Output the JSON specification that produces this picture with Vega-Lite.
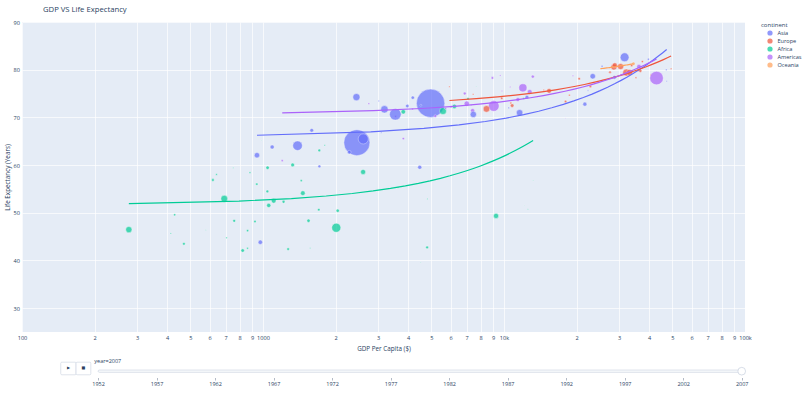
{
  "$schema": "https://vega.github.io/schema/vega-lite/v6.json",
  "padding": {"left": 4, "top": 6, "right": 2, "bottom": 2},
  "background": "white",
  "spacing": 24.5,
  "bounds": "flush",
  "config": {
    "font": "Open Sans",
    "view": {"stroke": null},
    "axis": {"labelFont": "Open Sans", "titleFont": "Open Sans", "labelColor": "#2a3f5f", "titleColor": "#2a3f5f", "titleFontWeight": "normal", "domain": false, "ticks": false, "tickSize": 0},
    "legend": {"titleFont": "Open Sans", "labelFont": "Open Sans", "titleColor": "#2a3f5f", "labelColor": "#2a3f5f", "titleFontWeight": "normal", "titleFontSize": 6, "labelFontSize": 5.6, "symbolSize": 14, "symbolType": "circle", "rowPadding": -2.2, "symbolOffset": 6, "titlePadding": 2, "labelOffset": 4.5, "offset": 9, "padding": 0}
  },
  "datasets": {
    "gapminder": [
      {"country":"Afghanistan","continent":"Asia","lifeExp":43.828,"pop":31889923,"gdpPercap":974.58},
      {"country":"Albania","continent":"Europe","lifeExp":76.423,"pop":3600523,"gdpPercap":5937.03},
      {"country":"Algeria","continent":"Africa","lifeExp":72.301,"pop":33333216,"gdpPercap":6223.37},
      {"country":"Angola","continent":"Africa","lifeExp":42.731,"pop":12420476,"gdpPercap":4797.23},
      {"country":"Argentina","continent":"Americas","lifeExp":75.32,"pop":40301927,"gdpPercap":12779.38},
      {"country":"Australia","continent":"Oceania","lifeExp":81.235,"pop":20434176,"gdpPercap":34435.37},
      {"country":"Austria","continent":"Europe","lifeExp":79.829,"pop":8199783,"gdpPercap":36126.49},
      {"country":"Bahrain","continent":"Asia","lifeExp":75.635,"pop":708573,"gdpPercap":29796.05},
      {"country":"Bangladesh","continent":"Asia","lifeExp":64.062,"pop":150448339,"gdpPercap":1391.25},
      {"country":"Belgium","continent":"Europe","lifeExp":79.441,"pop":10392226,"gdpPercap":33692.61},
      {"country":"Benin","continent":"Africa","lifeExp":56.728,"pop":8078314,"gdpPercap":1441.28},
      {"country":"Bolivia","continent":"Americas","lifeExp":65.554,"pop":9119152,"gdpPercap":3822.14},
      {"country":"Bosnia and Herzegovina","continent":"Europe","lifeExp":74.852,"pop":4552198,"gdpPercap":7446.3},
      {"country":"Botswana","continent":"Africa","lifeExp":50.728,"pop":1639131,"gdpPercap":12569.85},
      {"country":"Brazil","continent":"Americas","lifeExp":72.39,"pop":190010647,"gdpPercap":9065.8},
      {"country":"Bulgaria","continent":"Europe","lifeExp":73.005,"pop":7322858,"gdpPercap":10680.79},
      {"country":"Burkina Faso","continent":"Africa","lifeExp":52.295,"pop":14326203,"gdpPercap":1217.03},
      {"country":"Burundi","continent":"Africa","lifeExp":49.58,"pop":8390505,"gdpPercap":430.07},
      {"country":"Cambodia","continent":"Asia","lifeExp":59.723,"pop":14131858,"gdpPercap":1713.78},
      {"country":"Cameroon","continent":"Africa","lifeExp":50.43,"pop":17696293,"gdpPercap":2042.1},
      {"country":"Canada","continent":"Americas","lifeExp":80.653,"pop":33390141,"gdpPercap":36319.24},
      {"country":"Central African Republic","continent":"Africa","lifeExp":44.741,"pop":4369038,"gdpPercap":706.02},
      {"country":"Chad","continent":"Africa","lifeExp":50.651,"pop":10238807,"gdpPercap":1704.06},
      {"country":"Chile","continent":"Americas","lifeExp":78.553,"pop":16284741,"gdpPercap":13171.64},
      {"country":"China","continent":"Asia","lifeExp":72.961,"pop":1318683096,"gdpPercap":4959.11},
      {"country":"Colombia","continent":"Americas","lifeExp":72.889,"pop":44227550,"gdpPercap":7006.58},
      {"country":"Comoros","continent":"Africa","lifeExp":65.152,"pop":710960,"gdpPercap":986.15},
      {"country":"Congo, Dem. Rep.","continent":"Africa","lifeExp":46.462,"pop":64606759,"gdpPercap":277.55},
      {"country":"Congo, Rep.","continent":"Africa","lifeExp":55.322,"pop":3800610,"gdpPercap":3632.56},
      {"country":"Costa Rica","continent":"Americas","lifeExp":78.782,"pop":4133884,"gdpPercap":9645.06},
      {"country":"Cote d'Ivoire","continent":"Africa","lifeExp":48.328,"pop":18013409,"gdpPercap":1544.75},
      {"country":"Croatia","continent":"Europe","lifeExp":75.748,"pop":4493312,"gdpPercap":14619.22},
      {"country":"Cuba","continent":"Americas","lifeExp":78.273,"pop":11416987,"gdpPercap":8948.1},
      {"country":"Czech Republic","continent":"Europe","lifeExp":76.486,"pop":10228744,"gdpPercap":22833.31},
      {"country":"Denmark","continent":"Europe","lifeExp":78.332,"pop":5468120,"gdpPercap":35278.42},
      {"country":"Djibouti","continent":"Africa","lifeExp":54.791,"pop":496374,"gdpPercap":2082.48},
      {"country":"Dominican Republic","continent":"Americas","lifeExp":72.235,"pop":9319622,"gdpPercap":6025.37},
      {"country":"Ecuador","continent":"Americas","lifeExp":74.994,"pop":13755680,"gdpPercap":6873.26},
      {"country":"Egypt","continent":"Africa","lifeExp":71.338,"pop":80264543,"gdpPercap":5581.18},
      {"country":"El Salvador","continent":"Americas","lifeExp":71.878,"pop":6939688,"gdpPercap":5728.35},
      {"country":"Equatorial Guinea","continent":"Africa","lifeExp":51.579,"pop":551201,"gdpPercap":12154.09},
      {"country":"Eritrea","continent":"Africa","lifeExp":58.04,"pop":4906585,"gdpPercap":641.37},
      {"country":"Ethiopia","continent":"Africa","lifeExp":52.947,"pop":76511887,"gdpPercap":690.81},
      {"country":"Finland","continent":"Europe","lifeExp":79.313,"pop":5238460,"gdpPercap":33207.08},
      {"country":"France","continent":"Europe","lifeExp":80.657,"pop":61083916,"gdpPercap":30470.02},
      {"country":"Gabon","continent":"Africa","lifeExp":56.735,"pop":1454867,"gdpPercap":13206.48},
      {"country":"Gambia","continent":"Africa","lifeExp":59.448,"pop":1688359,"gdpPercap":752.75},
      {"country":"Germany","continent":"Europe","lifeExp":79.406,"pop":82400996,"gdpPercap":32170.37},
      {"country":"Ghana","continent":"Africa","lifeExp":60.022,"pop":22873338,"gdpPercap":1327.61},
      {"country":"Greece","continent":"Europe","lifeExp":79.483,"pop":10706290,"gdpPercap":27538.41},
      {"country":"Guatemala","continent":"Americas","lifeExp":70.259,"pop":12572928,"gdpPercap":5186.05},
      {"country":"Guinea","continent":"Africa","lifeExp":56.007,"pop":9947814,"gdpPercap":942.65},
      {"country":"Guinea-Bissau","continent":"Africa","lifeExp":46.388,"pop":1472041,"gdpPercap":579.23},
      {"country":"Haiti","continent":"Americas","lifeExp":60.916,"pop":8502814,"gdpPercap":1201.64},
      {"country":"Honduras","continent":"Americas","lifeExp":70.198,"pop":7483763,"gdpPercap":3548.33},
      {"country":"Hong Kong, China","continent":"Asia","lifeExp":82.208,"pop":6980412,"gdpPercap":39724.98},
      {"country":"Hungary","continent":"Europe","lifeExp":73.338,"pop":9956108,"gdpPercap":18008.94},
      {"country":"Iceland","continent":"Europe","lifeExp":81.757,"pop":301931,"gdpPercap":36180.79},
      {"country":"India","continent":"Asia","lifeExp":64.698,"pop":1110396331,"gdpPercap":2452.21},
      {"country":"Indonesia","continent":"Asia","lifeExp":70.65,"pop":223547000,"gdpPercap":3540.65},
      {"country":"Iran","continent":"Asia","lifeExp":70.964,"pop":69453570,"gdpPercap":11605.71},
      {"country":"Iraq","continent":"Asia","lifeExp":59.545,"pop":27499638,"gdpPercap":4471.06},
      {"country":"Ireland","continent":"Europe","lifeExp":78.885,"pop":4109086,"gdpPercap":40676.0},
      {"country":"Israel","continent":"Asia","lifeExp":80.745,"pop":6426679,"gdpPercap":25523.28},
      {"country":"Italy","continent":"Europe","lifeExp":80.546,"pop":58147733,"gdpPercap":28569.72},
      {"country":"Jamaica","continent":"Americas","lifeExp":72.567,"pop":2780132,"gdpPercap":7320.88},
      {"country":"Japan","continent":"Asia","lifeExp":82.603,"pop":127467972,"gdpPercap":31656.07},
      {"country":"Jordan","continent":"Asia","lifeExp":72.535,"pop":6053193,"gdpPercap":4519.46},
      {"country":"Kenya","continent":"Africa","lifeExp":54.11,"pop":35610177,"gdpPercap":1463.25},
      {"country":"Korea, Dem. Rep.","continent":"Asia","lifeExp":67.297,"pop":23301725,"gdpPercap":1593.07},
      {"country":"Korea, Rep.","continent":"Asia","lifeExp":78.623,"pop":49044790,"gdpPercap":23348.14},
      {"country":"Kuwait","continent":"Asia","lifeExp":77.588,"pop":2505559,"gdpPercap":47306.99},
      {"country":"Lebanon","continent":"Asia","lifeExp":71.993,"pop":3921278,"gdpPercap":10461.06},
      {"country":"Lesotho","continent":"Africa","lifeExp":42.592,"pop":2012649,"gdpPercap":1569.33},
      {"country":"Liberia","continent":"Africa","lifeExp":45.678,"pop":3193942,"gdpPercap":414.51},
      {"country":"Libya","continent":"Africa","lifeExp":73.952,"pop":6036914,"gdpPercap":12057.5},
      {"country":"Madagascar","continent":"Africa","lifeExp":59.443,"pop":19167654,"gdpPercap":1044.77},
      {"country":"Malawi","continent":"Africa","lifeExp":48.303,"pop":13327079,"gdpPercap":759.35},
      {"country":"Malaysia","continent":"Asia","lifeExp":74.241,"pop":24821286,"gdpPercap":12451.66},
      {"country":"Mali","continent":"Africa","lifeExp":54.467,"pop":12031795,"gdpPercap":1042.58},
      {"country":"Mauritania","continent":"Africa","lifeExp":64.164,"pop":3270065,"gdpPercap":1803.15},
      {"country":"Mauritius","continent":"Africa","lifeExp":72.801,"pop":1250882,"gdpPercap":10956.99},
      {"country":"Mexico","continent":"Americas","lifeExp":76.195,"pop":108700891,"gdpPercap":11977.57},
      {"country":"Mongolia","continent":"Asia","lifeExp":66.803,"pop":2874127,"gdpPercap":3095.77},
      {"country":"Montenegro","continent":"Europe","lifeExp":74.543,"pop":684736,"gdpPercap":9253.9},
      {"country":"Morocco","continent":"Africa","lifeExp":71.164,"pop":33757175,"gdpPercap":3820.18},
      {"country":"Mozambique","continent":"Africa","lifeExp":42.082,"pop":19951656,"gdpPercap":823.69},
      {"country":"Myanmar","continent":"Asia","lifeExp":62.069,"pop":47761980,"gdpPercap":944.0},
      {"country":"Namibia","continent":"Africa","lifeExp":52.906,"pop":2055080,"gdpPercap":4811.06},
      {"country":"Nepal","continent":"Asia","lifeExp":63.785,"pop":28901790,"gdpPercap":1091.36},
      {"country":"Netherlands","continent":"Europe","lifeExp":79.762,"pop":16570613,"gdpPercap":36797.93},
      {"country":"New Zealand","continent":"Oceania","lifeExp":80.204,"pop":4115771,"gdpPercap":25185.01},
      {"country":"Nicaragua","continent":"Americas","lifeExp":72.899,"pop":5675356,"gdpPercap":2749.32},
      {"country":"Niger","continent":"Africa","lifeExp":56.867,"pop":12894865,"gdpPercap":619.68},
      {"country":"Nigeria","continent":"Africa","lifeExp":46.859,"pop":135031164,"gdpPercap":2013.98},
      {"country":"Norway","continent":"Europe","lifeExp":80.196,"pop":4627926,"gdpPercap":49357.19},
      {"country":"Oman","continent":"Asia","lifeExp":75.64,"pop":3204897,"gdpPercap":22316.19},
      {"country":"Pakistan","continent":"Asia","lifeExp":65.483,"pop":169270617,"gdpPercap":2605.95},
      {"country":"Panama","continent":"Americas","lifeExp":75.537,"pop":3242173,"gdpPercap":9809.19},
      {"country":"Paraguay","continent":"Americas","lifeExp":71.752,"pop":6667147,"gdpPercap":4172.84},
      {"country":"Peru","continent":"Americas","lifeExp":71.421,"pop":28674757,"gdpPercap":7408.91},
      {"country":"Philippines","continent":"Asia","lifeExp":71.688,"pop":91077287,"gdpPercap":3190.48},
      {"country":"Poland","continent":"Europe","lifeExp":75.563,"pop":38518241,"gdpPercap":15389.92},
      {"country":"Portugal","continent":"Europe","lifeExp":78.098,"pop":10642836,"gdpPercap":20509.65},
      {"country":"Puerto Rico","continent":"Americas","lifeExp":78.746,"pop":3942491,"gdpPercap":19328.71},
      {"country":"Reunion","continent":"Africa","lifeExp":76.442,"pop":798094,"gdpPercap":7670.12},
      {"country":"Romania","continent":"Europe","lifeExp":72.476,"pop":22276056,"gdpPercap":10808.48},
      {"country":"Rwanda","continent":"Africa","lifeExp":46.242,"pop":8860588,"gdpPercap":863.09},
      {"country":"Sao Tome and Principe","continent":"Africa","lifeExp":65.528,"pop":199579,"gdpPercap":1598.44},
      {"country":"Saudi Arabia","continent":"Asia","lifeExp":72.777,"pop":27601038,"gdpPercap":21654.83},
      {"country":"Senegal","continent":"Africa","lifeExp":63.062,"pop":12267493,"gdpPercap":1712.47},
      {"country":"Serbia","continent":"Europe","lifeExp":74.002,"pop":10150265,"gdpPercap":9786.53},
      {"country":"Sierra Leone","continent":"Africa","lifeExp":42.568,"pop":6144562,"gdpPercap":862.54},
      {"country":"Singapore","continent":"Asia","lifeExp":79.972,"pop":4553009,"gdpPercap":47143.18},
      {"country":"Slovak Republic","continent":"Europe","lifeExp":74.663,"pop":5447502,"gdpPercap":18678.31},
      {"country":"Slovenia","continent":"Europe","lifeExp":77.926,"pop":2009245,"gdpPercap":25768.26},
      {"country":"Somalia","continent":"Africa","lifeExp":48.159,"pop":9118773,"gdpPercap":926.14},
      {"country":"South Africa","continent":"Africa","lifeExp":49.339,"pop":43997828,"gdpPercap":9269.66},
      {"country":"Spain","continent":"Europe","lifeExp":80.941,"pop":40448191,"gdpPercap":28821.06},
      {"country":"Sri Lanka","continent":"Asia","lifeExp":72.396,"pop":20378239,"gdpPercap":3970.1},
      {"country":"Sudan","continent":"Africa","lifeExp":58.556,"pop":42292929,"gdpPercap":2602.39},
      {"country":"Swaziland","continent":"Africa","lifeExp":39.613,"pop":1133066,"gdpPercap":4513.48},
      {"country":"Sweden","continent":"Europe","lifeExp":80.884,"pop":9031088,"gdpPercap":33859.75},
      {"country":"Switzerland","continent":"Europe","lifeExp":81.701,"pop":7554661,"gdpPercap":37506.42},
      {"country":"Syria","continent":"Asia","lifeExp":74.143,"pop":19314747,"gdpPercap":4184.55},
      {"country":"Taiwan","continent":"Asia","lifeExp":78.4,"pop":23174294,"gdpPercap":28718.28},
      {"country":"Tanzania","continent":"Africa","lifeExp":52.517,"pop":38139640,"gdpPercap":1107.48},
      {"country":"Thailand","continent":"Asia","lifeExp":70.616,"pop":65068149,"gdpPercap":7458.4},
      {"country":"Togo","continent":"Africa","lifeExp":58.42,"pop":5701579,"gdpPercap":882.97},
      {"country":"Trinidad and Tobago","continent":"Americas","lifeExp":69.819,"pop":1056608,"gdpPercap":18008.51},
      {"country":"Tunisia","continent":"Africa","lifeExp":73.923,"pop":10276158,"gdpPercap":7092.92},
      {"country":"Turkey","continent":"Europe","lifeExp":71.777,"pop":71158647,"gdpPercap":8458.28},
      {"country":"Uganda","continent":"Africa","lifeExp":51.542,"pop":29170398,"gdpPercap":1056.38},
      {"country":"United Kingdom","continent":"Europe","lifeExp":79.425,"pop":60776238,"gdpPercap":33203.26},
      {"country":"United States","continent":"Americas","lifeExp":78.242,"pop":301139947,"gdpPercap":42951.65},
      {"country":"Uruguay","continent":"Americas","lifeExp":76.384,"pop":3447496,"gdpPercap":10611.46},
      {"country":"Venezuela","continent":"Americas","lifeExp":73.747,"pop":26084662,"gdpPercap":11415.81},
      {"country":"Vietnam","continent":"Asia","lifeExp":74.249,"pop":85262356,"gdpPercap":2441.58},
      {"country":"West Bank and Gaza","continent":"Asia","lifeExp":73.422,"pop":4018332,"gdpPercap":3025.35},
      {"country":"Yemen, Rep.","continent":"Asia","lifeExp":62.698,"pop":22211743,"gdpPercap":2280.77},
      {"country":"Zambia","continent":"Africa","lifeExp":42.384,"pop":11746035,"gdpPercap":1271.21},
      {"country":"Zimbabwe","continent":"Africa","lifeExp":43.487,"pop":12311143,"gdpPercap":469.71}
    ],
    "years": [
      {"year":1952},{"year":1957},{"year":1962},{"year":1967},{"year":1972},{"year":1977},
      {"year":1982},{"year":1987},{"year":1992},{"year":1997},{"year":2002},{"year":2007}
    ]
  },
  "vconcat": [
    {
      "width": 723,
      "height": 310,
      "title": {"text": "GDP VS Life Expectancy", "anchor": "start", "frame": "group", "dx": 21, "fontSize": 7.7, "fontWeight": "normal", "color": "#2a3f5f", "font": "Open Sans", "offset": 6},
      "view": {"fill": "#E5ECF6", "stroke": null},
      "data": {"name": "gapminder"},
      "layer": [
        {
          "mark": {"type": "circle", "opacity": 0.7, "stroke": "white", "strokeWidth": 0.45, "clip": true},
          "encoding": {
            "x": {"field": "gdpPercap", "type": "quantitative",
              "scale": {"type": "log", "domain": [100, 100000], "nice": false},
              "axis": {"title": "GDP Per Capita ($)", "titleFontSize": 6.3, "titlePadding": 5, "labelFontSize": 5.6, "labelPadding": 3, "labelFlush": false, "labelOverlap": false,
                "values": [100,200,300,400,500,600,700,800,900,1000,2000,3000,4000,5000,6000,7000,8000,9000,10000,20000,30000,40000,50000,60000,70000,80000,90000,100000],
                "labelExpr": "datum.value == 100 ? '100' : datum.value == 1000 ? '1000' : datum.value == 10000 ? '10k' : datum.value == 100000 ? '100k' : substring(toString(datum.value), 0, 1)",
                "grid": true, "gridColor": "white", "gridWidth": 0.7}},
            "y": {"field": "lifeExp", "type": "quantitative",
              "scale": {"domain": [25, 90], "nice": false, "zero": false},
              "axis": {"title": "Life Expectancy (Years)", "titleFontSize": 6.3, "titlePadding": 3, "labelFontSize": 5.6, "labelPadding": 2.5, "values": [30,40,50,60,70,80,90], "grid": true, "gridColor": "white", "gridWidth": 0.7}},
            "size": {"field": "pop", "type": "quantitative", "scale": {"type": "linear", "domain": [0, 1318683096], "range": [0, 804], "zero": true}, "legend": null},
            "color": {"field": "continent", "type": "nominal",
              "scale": {"domain": ["Asia", "Europe", "Africa", "Americas", "Oceania"], "range": ["#636efa", "#EF553B", "#00cc96", "#ab63fa", "#FFA15A"]},
              "legend": {"title": "continent", "orient": "right"}}
          }
        },
        {
          "transform": [{"regression": "lifeExp", "on": "gdpPercap", "groupby": ["continent"], "method": "poly", "order": 1}],
          "mark": {"type": "line", "strokeWidth": 1.2, "clip": true},
          "encoding": {
            "x": {"field": "gdpPercap", "type": "quantitative"},
            "y": {"field": "lifeExp", "type": "quantitative"},
            "color": {"field": "continent", "type": "nominal"}
          }
        }
      ]
    },
    {
      "width": 723,
      "height": 21,
      "view": {"stroke": null},
      "layer": [
        {
          "data": {"values": [{"from": 1952, "to": 2007}]},
          "mark": {"type": "rect", "fill": "#F8FAFC", "stroke": "#BEC8D9", "strokeWidth": 0.5, "cornerRadius": 1.2},
          "encoding": {
            "x": {"field": "from", "type": "quantitative", "scale": {"domain": [1945.5, 2007.28], "nice": false, "zero": false},
              "axis": {"title": null, "orient": "bottom", "values": [1952,1957,1962,1967,1972,1977,1982,1987,1992,1997,2002,2007], "format": "d", "labelFontSize": 5.5, "labelColor": "#2a3f5f", "ticks": true, "tickSize": 2.5, "tickColor": "#7f8ca0", "tickWidth": 0.6, "labelPadding": 1.5, "grid": false, "domain": false, "labelFlush": false, "labelOverlap": false}},
            "x2": {"field": "to"},
            "y": {"datum": 0.245, "type": "quantitative", "scale": {"domain": [0, 1], "nice": false, "zero": false}, "axis": null},
            "y2": {"datum": 0.355}
          }
        },
        {
          "data": {"name": "years"},
          "transform": [{"filter": "datum.year == 2007"}],
          "mark": {"type": "point", "shape": "circle", "filled": true, "fill": "white", "stroke": "#BEC8D9", "strokeWidth": 0.6, "size": 59, "opacity": 1},
          "encoding": {
            "x": {"field": "year", "type": "quantitative"},
            "y": {"datum": 0.3, "type": "quantitative"}
          }
        },
        {
          "data": {"values": [{"label": "year=2007"}]},
          "mark": {"type": "text", "align": "left", "baseline": "middle", "fontSize": 5.5, "color": "#2a3f5f", "font": "Open Sans", "dx": -3.7},
          "encoding": {
            "x": {"datum": 1952, "type": "quantitative"},
            "y": {"datum": 0.776, "type": "quantitative"},
            "text": {"field": "label"}
          }
        },
        {
          "data": {"values": [{"button": "play"}]},
          "mark": {"type": "rect", "fill": "white", "stroke": "#BEC8D9", "strokeWidth": 0.5, "cornerRadius": 1},
          "encoding": {
            "x": {"datum": 1948.81, "type": "quantitative"},
            "x2": {"datum": 1950.12},
            "y": {"datum": 0.129, "type": "quantitative"},
            "y2": {"datum": 0.729}
          }
        },
        {
          "data": {"values": [{"button": "pause"}]},
          "mark": {"type": "rect", "fill": "white", "stroke": "#BEC8D9", "strokeWidth": 0.5, "cornerRadius": 1},
          "encoding": {
            "x": {"datum": 1950.12, "type": "quantitative"},
            "x2": {"datum": 1951.38},
            "y": {"datum": 0.129, "type": "quantitative"},
            "y2": {"datum": 0.729}
          }
        },
        {
          "data": {"values": [{"glyph": "▶"}]},
          "mark": {"type": "text", "align": "center", "baseline": "middle", "fontSize": 4, "color": "#2a3f5f", "font": "DejaVu Sans"},
          "encoding": {
            "x": {"datum": 1949.47, "type": "quantitative"},
            "y": {"datum": 0.43, "type": "quantitative"},
            "text": {"field": "glyph"}
          }
        },
        {
          "data": {"values": [{"glyph": "■"}]},
          "mark": {"type": "text", "align": "center", "baseline": "middle", "fontSize": 4, "color": "#2a3f5f", "font": "DejaVu Sans"},
          "encoding": {
            "x": {"datum": 1950.75, "type": "quantitative"},
            "y": {"datum": 0.43, "type": "quantitative"},
            "text": {"field": "glyph"}
          }
        }
      ]
    }
  ]
}
